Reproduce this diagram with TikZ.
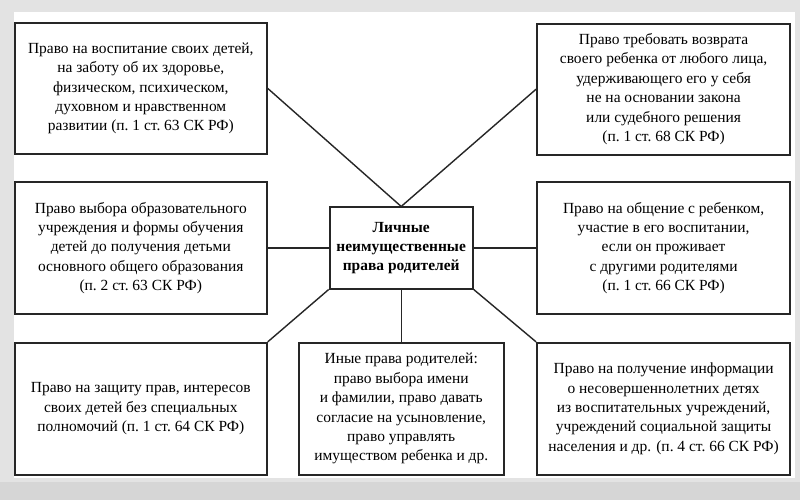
\documentclass[tikz,border=0pt]{standalone}
\usepackage{fontspec}
\setmainfont{Liberation Serif}
\usepackage{tikz}
\usetikzlibrary{positioning}

\begin{document}
\begin{tikzpicture}[
    right_box/.style = {draw=black!85, line width=1.3pt, rectangle, fill=white, align=center,
        minimum width=6.3cm, minimum height=3.28cm, inner sep=2pt,
        font=\fontsize{11}{13.8}\selectfont},
    % центральный блок
    main_box/.style = {right_box, minimum width=3.58cm, minimum height=2.03cm,
        font=\fontsize{11}{13.8}\selectfont\bfseries},
    link/.style = {line width=1pt, draw=black!85}
]

% --- Фон (серая рамка) ---
\useasboundingbox (0,0) rectangle (20,12.5);
\fill[gray!22] (0,0) rectangle (20,12.5);
\fill[gray!32] (0,0) rectangle (20,0.45);
\fill[white] (0.35,0.55) rectangle (19.875,12.2);

% --- Центр ---
\node[main_box] (center) at (10.03, 6.3) {Личные\\неимущественные\\права родителей};

% --- Левая колонка ---
\node[right_box] (r_upbring) at (3.52, 10.29) {Право на воспитание своих детей,\\на заботу об их здоровье,\\физическом, психическом,\\духовном и нравственном\\развитии (п.~1 ст.~63 СК РФ)};
\node[right_box] (r_educ) at (3.52, 6.3) {Право выбора образовательного\\учреждения и формы обучения\\детей до получения детьми\\основного общего образования\\(п.~2 ст.~63 СК РФ)};
\node[right_box, minimum height=3.3cm] (r_protect) at (3.52, 2.28) {Право на защиту прав, интересов\\своих детей без специальных\\полномочий (п.~1 ст.~64 СК РФ)};

% --- Правая колонка ---
\node[right_box, minimum width=6.33cm] (r_return) at (16.59, 10.27) {Право требовать возврата\\своего ребенка от любого лица,\\удерживающего его у себя\\не на основании закона\\или судебного решения\\(п.~1 ст.~68 СК РФ)};
\node[right_box, minimum width=6.33cm] (r_contact) at (16.59, 6.3) {Право на общение с ребенком,\\участие в его воспитании,\\если он проживает\\с другими родителями\\(п.~1 ст.~66 СК РФ)};
\node[right_box, minimum width=6.33cm, minimum height=3.3cm] (r_info) at (16.59, 2.28) {Право на получение информации\\о несовершеннолетних детях\\из воспитательных учреждений,\\учреждений социальной защиты\\населения и др. (п.~4 ст.~66 СК РФ)};

% --- Низ по центру ---
\node[right_box, minimum width=5.13cm, minimum height=3.3cm] (r_other) at (10.03, 2.28) {Иные права родителей:\\право выбора имени\\и фамилии, право давать\\согласие на усыновление,\\право управлять\\имуществом ребенка и др.};

% --- Связи ---
\draw[link] (r_upbring.east) -- (center.north);
\draw[link] (r_return.west) -- (center.north);
\draw[link] (r_educ.east) -- (center.west);
\draw[link] (center.east) -- (r_contact.west);
\draw[link] (center.south west) -- (r_protect.north east);
\draw[link] (center.south) -- (r_other.north);
\draw[link] (center.south east) -- (r_info.north west);

\end{tikzpicture}
\end{document}
